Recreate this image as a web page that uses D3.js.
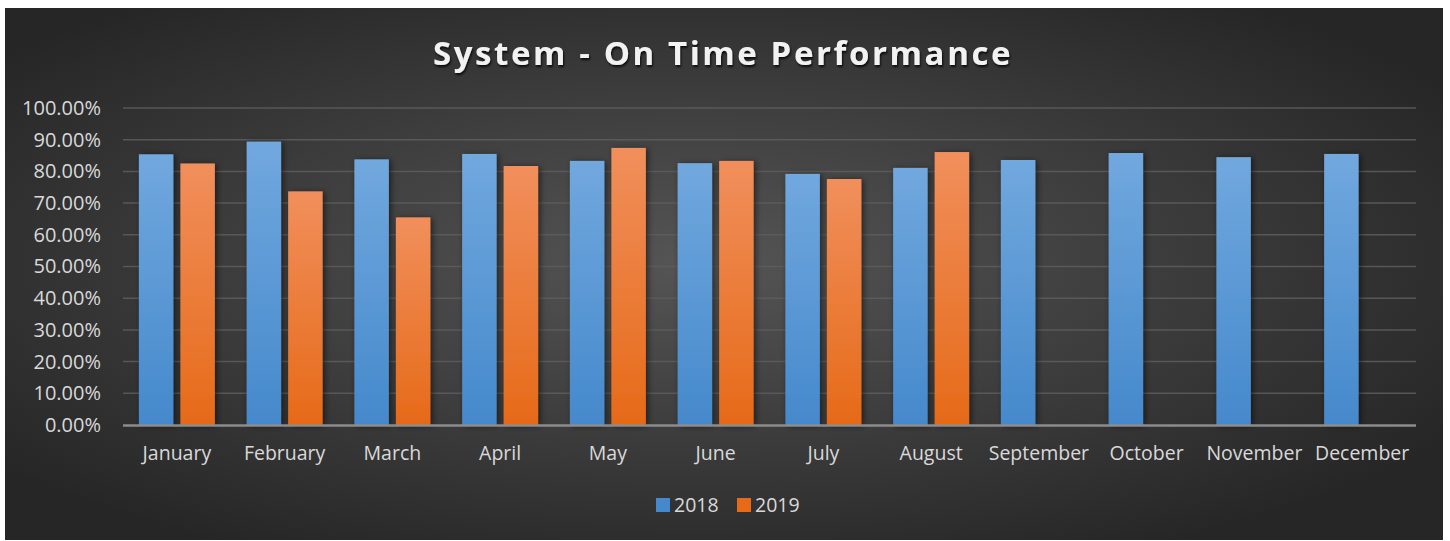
<!DOCTYPE html>
<html>
<head>
<meta charset="utf-8">
<script src="https://cdn.jsdelivr.net/npm/d3@7"></script>
<style>
  body { margin: 0; background: #ffffff; }
  svg { display: block; }
</style>
</head>
<body>
<div id="chart"></div>
<script>
// data
const months = ['January', 'February', 'March', 'April', 'May', 'June', 'July', 'August', 'September', 'October', 'November', 'December'];
const seriesNames = ['2018', '2019'];
const values2018 = [85.4, 89.4, 83.8, 85.5, 83.3, 82.6, 79.2, 81.1, 83.6, 85.8, 84.5, 85.5];
const values2019 = [82.5, 73.7, 65.5, 81.7, 87.4, 83.3, 77.6, 86.1, null, null, null, null];
const yTicks = [0, 10, 20, 30, 40, 50, 60, 70, 80, 90, 100];

const W = 1450, H = 541;
const svg = d3.select('#chart').append('svg').attr('width', W).attr('height', H);
const defs = svg.append('defs');

// background gradient
const bg = defs.append('radialGradient').attr('id', 'bg')
    .attr('cx', '48%').attr('cy', '48%').attr('r', '62%');
bg.append('stop').attr('offset', '0%').attr('stop-color', '#555555');
bg.append('stop').attr('offset', '100%').attr('stop-color', '#262626');

const grads = {'2018': ['#71a8de', '#4589cc'], '2019': ['#f18f5c', '#e66a18']};
seriesNames.forEach(s => {
    const g = defs.append('linearGradient').attr('id', 'g' + s)
        .attr('x1', 0).attr('y1', 0).attr('x2', 0).attr('y2', 1);
    g.append('stop').attr('offset', '0%').attr('stop-color', grads[s][0]);
    g.append('stop').attr('offset', '100%').attr('stop-color', grads[s][1]);
});

const shadow = defs.append('filter').attr('id', 'shadow')
    .attr('x', '-30%').attr('y', '-10%').attr('width', '160%').attr('height', '120%');
shadow.append('feDropShadow').attr('dx', 2).attr('dy', 1).attr('stdDeviation', 3)
    .attr('flood-color', '#000').attr('flood-opacity', 0.55);

const tshadow = defs.append('filter').attr('id', 'tshadow');
tshadow.append('feDropShadow').attr('dx', 1).attr('dy', 2).attr('stdDeviation', 1.2)
    .attr('flood-color', '#000').attr('flood-opacity', 0.8);

svg.append('rect').attr('x', 5).attr('y', 8).attr('width', 1438).attr('height', 532)
    .attr('fill', 'url(#bg)');

// title
svg.append('text')
    .attr('x', 723).attr('y', 65)
    .attr('text-anchor', 'middle')
    .attr('font-family', 'Open Sans, sans-serif')
    .attr('font-weight', 'bold')
    .attr('font-size', 33)
    .attr('letter-spacing', 2.6)
    .attr('fill', '#f2f2f2')
    .attr('filter', 'url(#tshadow)')
    .text('System - On Time Performance');

const x = d3.scaleBand().domain(months).range([123, 1416]).paddingInner(0.295).paddingOuter(0.1475);
const xs = d3.scaleBand().domain(seriesNames).range([0, x.bandwidth()]).paddingInner(0.17);
const y = d3.scaleLinear().domain([0, 100]).range([425, 108]);

// grid
svg.append('g').selectAll('line').data(yTicks.filter(d => d > 0)).enter().append('line')
    .attr('x1', 123).attr('x2', 1416)
    .attr('y1', d => y(d)).attr('y2', d => y(d))
    .attr('stroke', '#5e5e5e').attr('stroke-width', 1.5).attr('opacity', 0.85);

// y axis labels
const yAxis = svg.append('g').attr('transform', 'translate(101,0)')
    .call(d3.axisLeft(y).tickValues(yTicks).tickSize(0).tickPadding(0).tickFormat(d => d.toFixed(2) + '%'));
yAxis.select('.domain').remove();
yAxis.selectAll('text')
    .attr('font-family', 'Open Sans, sans-serif').attr('font-size', 20).attr('fill', '#d9d9d9');

// bars
const rows = [];
months.forEach((m, i) => {
    rows.push({month: m, series: '2018', value: values2018[i]});
    if (values2019[i] != null) rows.push({month: m, series: '2019', value: values2019[i]});
});
svg.append('g').selectAll('rect').data(rows).enter().append('rect')
    .attr('x', d => x(d.month) + xs(d.series))
    .attr('y', d => y(d.value))
    .attr('width', xs.bandwidth())
    .attr('height', d => y(0) - y(d.value))
    .attr('fill', d => 'url(#g' + d.series + ')')
    .attr('filter', 'url(#shadow)');

// baseline
svg.append('line').attr('x1', 123).attr('x2', 1416).attr('y1', 425.5).attr('y2', 425.5)
    .attr('stroke', '#8c8c8c').attr('stroke-width', 2.5);

// x axis labels
const xAxis = svg.append('g').attr('transform', 'translate(0,427)')
    .call(d3.axisBottom(x).tickSize(0).tickPadding(19));
xAxis.select('.domain').remove();
xAxis.selectAll('text')
    .attr('font-family', 'Open Sans, sans-serif').attr('font-size', 19.5).attr('fill', '#d9d9d9');

// legend
const legendX = {'2018': 656, '2019': 737};
const legend = svg.append('g').selectAll('g').data(seriesNames).enter().append('g')
    .attr('transform', d => 'translate(' + legendX[d] + ',498)');
legend.append('rect').attr('width', 14).attr('height', 14).attr('fill', d => grads[d][1]);
legend.append('text').attr('x', 18).attr('y', 14)
    .attr('font-family', 'Open Sans, sans-serif').attr('font-size', 19.5).attr('fill', '#d9d9d9')
    .text(d => d);
</script>
</body>
</html>
